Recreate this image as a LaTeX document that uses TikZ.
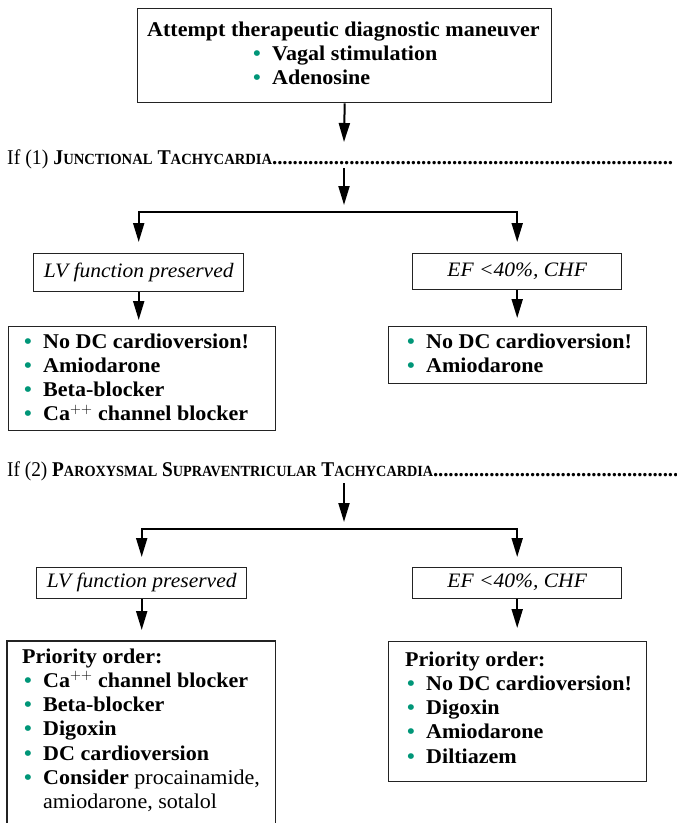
\documentclass[tikz,border=0pt]{standalone}
\usepackage{fontspec}
\setmainfont{Liberation Serif}[FakeStretch=1.05]
\newfontfamily\headfont{Liberation Serif}
\usepackage{graphicx}
\usetikzlibrary{arrows.meta,calc}
\definecolor{bulc}{RGB}{0,150,120}
\definecolor{boxc}{RGB}{35,35,35}
\newcommand\itm{\makebox[21pt][l]{\hspace{2pt}\textcolor{bulc}{\textbullet}}}
\newcommand\fsc[2]{#1{\fontsize{15.5}{15.5}\selectfont #2}}
\newcommand\dotlead{\xleaders\hbox to 5.1pt{\hss.\hss}\hfill}
\tikzset{
  box/.style={draw=boxc, line width=1.4pt, inner sep=0pt, anchor=north west},
  txt/.style={inner sep=0pt, anchor=north west, align=left, font=\fontsize{21}{24.2}\selectfont\bfseries},
  cond/.style={box, font=\fontsize{20.5}{24}\selectfont\itshape, text height=13pt, text depth=4pt},
  head/.style={inner sep=0pt, anchor=base west, font=\headfont\fontsize{21}{24}\selectfont},
  arr/.style={line width=2pt, -{Triangle[length=19pt,width=11pt]}},
  branch/.style={line width=2pt}
}
\begin{document}
\begin{tikzpicture}[x=1pt,y=-1pt]
\useasboundingbox (0,0) rectangle (677,823);
% top box
\node[box, minimum width=414pt, minimum height=94pt] (b0) at (137,8) {};
\node[txt] (t0) at (147,21) {\rule{0pt}{15pt}Attempt therapeutic diagnostic maneuver\\
  \hspace*{104pt}\itm Vagal stimulation\\
  \hspace*{104pt}\itm Adenosine};
% heading 1
\node[head] (h1) at (7,164) {\hbox to 666pt{\resizebox{265pt}{\height}{If (1) \textbf{\fsc{J}{UNCTIONAL} \fsc{T}{ACHYCARDIA}}}{\bfseries\dotlead}}};
\coordinate (a1e) at (344,142);
\coordinate (a2s) at (344,168);
\coordinate (a2e) at (344,205);
\coordinate (j1) at (344,212);
% condition boxes 1
\node[cond, minimum width=210pt, minimum height=38pt] (lv1) at (33,253) {LV function preserved};
\node[cond, minimum width=209pt, minimum height=36pt] (ef1) at (412,253) {EF <40\%, CHF};
% treatment boxes 1
\node[box, minimum width=267pt, minimum height=104pt] (bx1) at (8,326) {};
\node[txt] (t1) at (22,333) {\rule{0pt}{15pt}\itm No DC cardioversion!\\
  \itm Amiodarone\\
  \itm Beta-blocker\\
  \itm Ca$^{++}$ channel blocker};
\node[box, minimum width=258pt, minimum height=57pt] (bx2) at (388,326) {};
\node[txt] (t2) at (405,333) {\rule{0pt}{15pt}\itm No DC cardioversion!\\
  \itm Amiodarone};
% heading 2
\node[head] (h2) at (7,476) {\hbox to 671pt{\resizebox{426pt}{\height}{If (2) \textbf{\fsc{P}{AROXYSMAL} \fsc{S}{UPRAVENTRICULAR} \fsc{T}{ACHYCARDIA}}}{\bfseries\dotlead}}};
\coordinate (a3s) at (344,483);
\coordinate (a3e) at (344,522);
\coordinate (j2) at (344,529);
% condition boxes 2
\node[cond, minimum width=210pt, minimum height=31pt] (lv2) at (36,567) {LV function preserved};
\node[cond, minimum width=209pt, minimum height=31pt] (ef2) at (412,567) {EF <40\%, CHF};
% priority boxes
\node[inner sep=0pt, anchor=north west, minimum width=268pt, minimum height=182pt] (pb1) at (7,641) {};
\draw[boxc, line width=1.4pt] (pb1.south west) |- (pb1.north east) -- (pb1.south east);
\node[txt] (t3) at (22,648) {\rule{0pt}{15pt}Priority order:\\
  \itm Ca$^{++}$ channel blocker\\
  \itm Beta-blocker\\
  \itm Digoxin\\
  \itm DC cardioversion\\
  \itm Consider {\mdseries procainamide,}\\
  \hspace*{21pt}{\mdseries amiodarone, sotalol}};
\node[box, minimum width=258pt, minimum height=140pt] (pb2) at (388,641) {};
\node[txt] (t4) at (405,651) {\rule{0pt}{15pt}Priority order:\\
  \itm No DC cardioversion!\\
  \itm Digoxin\\
  \itm Amiodarone\\
  \itm Diltiazem};
% connectors
\draw[arr] (b0.south) -- (a1e);
\draw[arr] (a2s) -- (a2e);
\draw[arr] (j1) -| ($(lv1.north)+(0,-11)$);
\draw[arr] (j1) -| ($(ef1.north)+(0,-11)$);
\draw[arr] (lv1.south) -- ($(lv1.south |- bx1.north)+(0,-6)$);
\draw[arr] (ef1.south) -- ($(ef1.south |- bx2.north)+(0,-8)$);
\draw[arr] (a3s) -- (a3e);
\draw[arr] (j2) -| ($(lv2.north)+(0,-10)$);
\draw[arr] (j2) -| ($(ef2.north)+(0,-10)$);
\draw[arr] (lv2.south) -- ($(lv2.south |- pb1.north)+(0,-11)$);
\draw[arr] (ef2.south) -- ($(ef2.south |- pb2.north)+(0,-13)$);
\end{tikzpicture}
\end{document}
